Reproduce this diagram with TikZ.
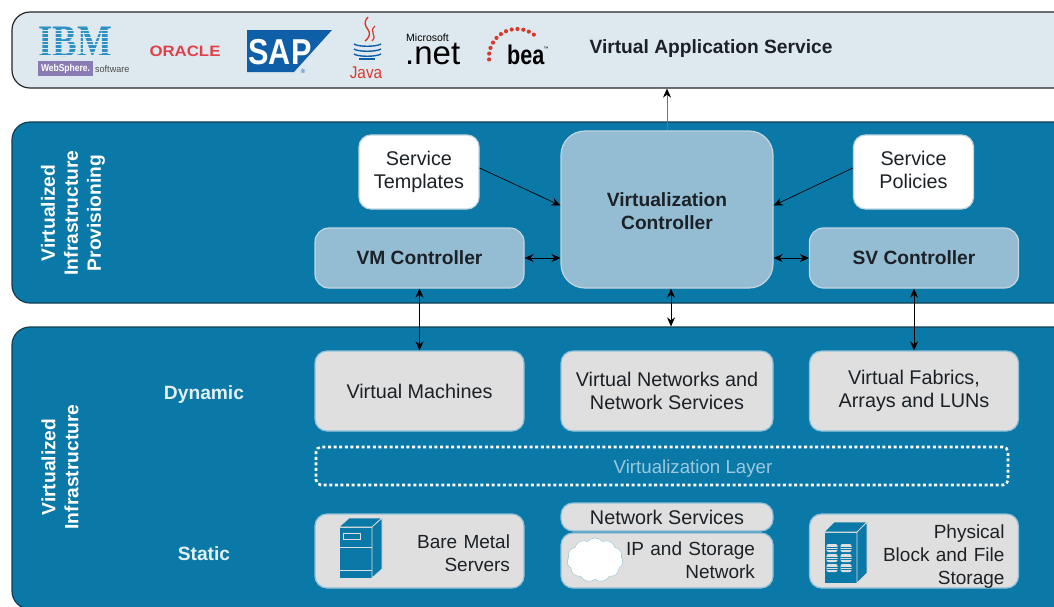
\documentclass[tikz,border=0pt]{standalone}
\usepackage{fontspec}
\setmainfont{Liberation Sans}
\newfontfamily\slabfont{Liberation Serif}
\usetikzlibrary{arrows.meta,shapes.symbols}
\definecolor{bandblue}{HTML}{0A79A8}
\definecolor{bandline}{HTML}{123C52}
\definecolor{appfill}{HTML}{DEE9EF}
\definecolor{ctrlfill}{HTML}{94BDD4}
\definecolor{ctrlline}{HTML}{C3D5E0}
\definecolor{boxfill}{HTML}{DFDFDF}
\definecolor{boxline}{HTML}{8FC0D8}
\definecolor{layertext}{HTML}{9CC8DC}
\definecolor{labeltext}{HTML}{E2F0F6}
\definecolor{inktext}{HTML}{1C2126}
\definecolor{ibmblue}{HTML}{2D91C4}
\definecolor{wspurple}{HTML}{8A7BB5}
\definecolor{oraclered}{HTML}{E0404A}
\definecolor{logored}{HTML}{D8392B}
\definecolor{sapblue}{HTML}{0F5FA8}
\begin{document}
\begin{tikzpicture}[x=1pt,y=-1pt,>={Stealth[length=9pt,width=8pt]},
  every node/.style={font=\fontsize{19.8}{23}\selectfont,text=inktext}]
  \tikzset{ band/.style={draw=bandline, line width=1.2pt, fill=bandblue, rounded corners=18pt, minimum width=1088pt},
    ctrlbox/.style={draw=ctrlline, line width=1.2pt, fill=ctrlfill, rounded corners=14pt, align=center, font=\fontsize{19.2}{23}\selectfont\bfseries},
    tmplbox/.style={draw=ctrlline, line width=1.2pt, fill=white, rounded corners=12pt, align=center, minimum width=120pt, minimum height=74pt},
    plainbox/.style={draw=boxline, line width=1.2pt, fill=boxfill, rounded corners=12pt, align=center, minimum width=209pt},
    rightbox/.style={plainbox, minimum height=74pt, align=right, text width=181pt, inner xsep=14pt, inner ysep=0pt, font=\fontsize{19}{23}\selectfont},
    sidelabel/.style={rotate=90, align=center, text=white, font=\fontsize{19.2}{23}\selectfont\bfseries},
    rowlabel/.style={text=labeltext, font=\fontsize{19.2}{23}\selectfont\bfseries},
    link/.style={<->, line width=0.8pt, black},
    iconline/.style={draw=boxfill, line width=0.7pt, fill=bandblue, line join=round},
    logotext/.style={inner sep=0pt, text=black} };
  \useasboundingbox (0,0) rectangle (1054,606);
  \clip (0,0) rectangle (1054,606);
  \fill[white] (0,0) rectangle (1054,606);

  \node[band, draw=black!85, fill=appfill, minimum height=76pt] (app) at (556,50) {};
  \node[band, minimum height=181pt] (prov) at (556,212.5) {};
  \node[band, minimum height=282pt] (infra) at (556,468) {};

  \node[anchor=west, font=\fontsize{19.2}{23}\selectfont\bfseries] (appname) at (586,49) {Virtual Application Service};
  \node[sidelabel] (provname) at (73,213) {Virtualized\\Infrastructure\\Provisioning};
  \node[sidelabel] (infraname) at (60,467) {Virtualized\\Infrastructure};
  \node[rowlabel] (dyn) at (204,395) {Dynamic};
  \node[rowlabel] (stat) at (204,554) {Static};

  \node[ctrlbox, rounded corners=24pt, minimum width=212pt, minimum height=157pt] (ctrl) at (667,209.5) {\rule{0pt}{18pt}Virtualization\\Controller};
  \node[ctrlbox, minimum width=209pt, minimum height=60pt] (vmctrl) at (419.5,258) {VM Controller};
  \node[ctrlbox, minimum width=209pt, minimum height=60pt] (svctrl) at (914,258) {SV Controller};
  \node[tmplbox] (tmpl) at (419,172) {Service\\Templates};
  \node[tmplbox] (policy) at (913.5,172) {Service\\Policies\vphantom{g}};

  \node[plainbox, minimum height=80pt] (vms) at (419.5,391) {Virtual Machines};
  \node[plainbox, minimum height=80pt, minimum width=212pt] (nets) at (667,391) {Virtual Networks and\\Network Services};
  \node[plainbox, minimum height=80pt] (fabric) at (914,391) {Virtual Fabrics,\\Arrays and LUNs};
  \node[draw=white, line width=2.6pt, dash pattern=on 3pt off 2.6pt, rounded corners=5pt, minimum width=692pt, minimum height=38pt] (layer) at (662,466) {};
  \node[text=layertext, font=\fontsize{18.7}{23}\selectfont] (layername) at (693,469) {Virtualization Layer};

  \node[rightbox] (bare) at (419.5,551) {\rule{0pt}{18pt}Bare Metal\\Servers};
  \node[plainbox, minimum width=212pt, minimum height=28pt, inner ysep=0pt] (netsrv) at (667,517) {Network Services};
  \node[rightbox, minimum width=212pt, minimum height=55pt, text width=176pt, inner xsep=18pt] (ipnet) at (667,560.5) {IP and Storage\\Network};
  \node[rightbox] (phys) at (914,551) {\rule{0pt}{24pt}Physical\\Block and File\\Storage};
  \node[cloud, cloud puffs=11, cloud puff arc=100, aspect=1.3, draw=boxline, fill=white, minimum width=56pt, minimum height=44pt, inner sep=0pt] (cloudnet) at (595,560) {};

  \draw[-{Stealth[length=9pt,width=8pt,black]}, line width=0.9pt, black!55] (ctrl.north) -- (ctrl.north |- app.south);
  \draw[->, line width=0.7pt, black] ([yshift=4pt]tmpl.east) -- ([yshift=4pt]ctrl.west);
  \draw[->, line width=0.7pt, black] ([yshift=4pt]policy.west) -- ([yshift=4pt]ctrl.east);
  \draw[link] (vmctrl.east) -- (vmctrl.east -| ctrl.west);
  \draw[link] (svctrl.west) -- (svctrl.west -| ctrl.east);
  \draw[link] ([xshift=4pt]ctrl.south) -- ([xshift=4pt]ctrl.south |- infra.north);
  \draw[link] (vmctrl.south) -- (vms.north);
  \draw[link] (svctrl.south) -- (fabric.north);

  \draw[iconline] (339,527) -- (372,527) -- (372,578) -- (339,578) -- cycle;
  \draw[iconline] (339,527) -- (349,518) -- (382,518) -- (372,527) -- cycle;
  \draw[iconline] (372,527) -- (382,518) -- (382,569) -- (372,578) -- cycle;
  \draw[boxfill, line width=0.7pt] (339,547) -- (372,547) (339,570) -- (372,570);
  \draw[boxfill, line width=0.7pt] (343,533) rectangle (360,539);
  \draw[iconline] (824,532) -- (857,532) -- (857,583) -- (824,583) -- cycle;
  \draw[iconline] (824,532) -- (834,522) -- (867,522) -- (857,532) -- cycle;
  \draw[iconline] (857,532) -- (867,522) -- (867,573) -- (857,583) -- cycle;
  \foreach \px in {832,846} \foreach \py in {548,558,568} {
    \fill[boxfill, rounded corners=2pt] (\px-5.5,\py-4) rectangle (\px+5.5,\py+4);
    \draw[bandblue, line width=0.5pt] (\px-5.5,\py-1.2) -- (\px+5.5,\py-1.2) (\px-5.5,\py+1.4) -- (\px+5.5,\py+1.4);
  }

  \node[logotext, text=ibmblue, font=\fontsize{45}{45}\selectfont\slabfont\bfseries] (ibm) at (75,42) {\scalebox{.82}[1]{IBM}};
  \foreach \py in {30,33.7,37.4,41.1,44.8,48.5,52.2,55.9} \draw[appfill, line width=1pt] (36,\py) -- (114,\py);
  \node[fill=wspurple, text=white, inner sep=0pt, minimum width=55pt, minimum height=15pt, font=\fontsize{10}{10}\selectfont\bfseries] (ws) at (65.5,68.5) {\scalebox{.85}[1]{WebSphere.}};
  \node[logotext, anchor=west, text=black!70, font=\fontsize{9.5}{10}\selectfont] (wsoft) at (95,69) {\scalebox{.95}[1]{software}};
  \node[logotext, text=oraclered, font=\fontsize{15}{15}\selectfont\bfseries] (oracle) at (185,51.5) {\scalebox{1.12}[1]{ORACLE}};

  \fill[sapblue] (247,30) -- (332,30) -- (294,72) -- (247,72) -- cycle;
  \node[logotext, text=white, font=\fontsize{36}{36}\selectfont\bfseries] (sap) at (280,52) {\scalebox{.85}[1]{SAP}};
  \node[logotext, text=sapblue, font=\fontsize{6}{6}\selectfont] (sapreg) at (303,71) {®};

  \draw[logored, line width=1.4pt] (368,17) .. controls (358,28) and (378,30) .. (365,41);
  \draw[logored, line width=1.2pt] (375,26) .. controls (368,32) and (378,35) .. (372,41);
  \foreach \py in {44,49,54} \draw[sapblue, line width=1.4pt] (354,\py) .. controls (358,\py+3) and (376,\py+3) .. (381,\py);
  \draw[sapblue, line width=1.2pt] (359,59) -- (375,59);
  \node[logotext, text=logored, font=\fontsize{17}{17}\selectfont] (java) at (366,73) {\scalebox{.9}[1]{Java}};

  \node[logotext, anchor=west, font=\fontsize{10.5}{11}\selectfont] (ms) at (406,38) {Microsoft};
  \node[logotext, anchor=base west, text height=17pt, font=\fontsize{33}{33}\selectfont] (dotnet) at (405,64) {.net};

  \foreach \ang in {175,187,199,211,223,235,247,259,271,283,295,307}
    \fill[logored] (\ang:28 and 28) ++(517,57) circle (2.1pt);
  \node[logotext, anchor=base west, text height=20pt, font=\fontsize{27}{27}\selectfont\bfseries] (bea) at (507,64) {\scalebox{.8}[1]{bea}};
  \node[logotext, font=\fontsize{5}{5}\selectfont] (beatm) at (546,49) {™};
\end{tikzpicture}
\end{document}
